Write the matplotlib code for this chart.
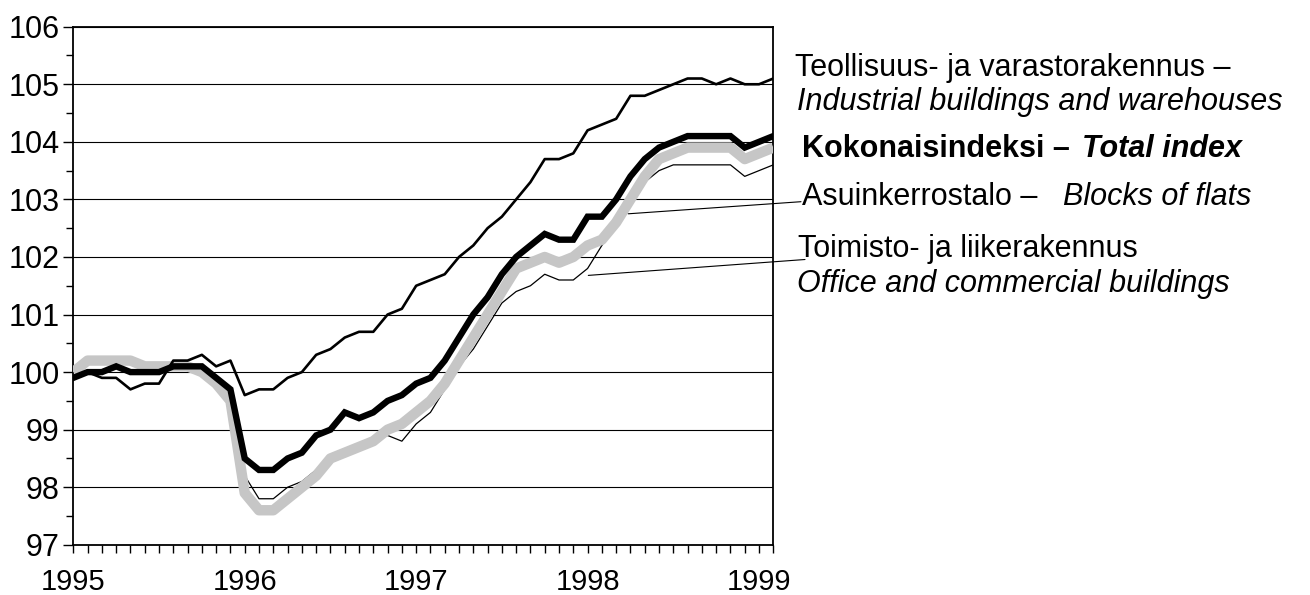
import matplotlib
matplotlib.use('Agg')
import matplotlib.pyplot as plt
from matplotlib import font_manager as fm
import numpy as np

# ---------------- data ----------------
months = list(range(50))  # Jan 1995 ... Feb 1999
year_tick_pos = [0, 12, 24, 36, 48]
year_labels = ['1995', '1996', '1997', '1998', '1999']
y_ticks = [97, 98, 99, 100, 101, 102, 103, 104, 105, 106]

teollisuus = [99.9, 100.0, 99.9, 99.9, 99.7, 99.8, 99.8, 100.2, 100.2, 100.3, 100.1, 100.2,
              99.6, 99.7, 99.7, 99.9, 100.0, 100.3, 100.4, 100.6, 100.7, 100.7, 101.0, 101.1,
              101.5, 101.6, 101.7, 102.0, 102.2, 102.5, 102.7, 103.0, 103.3, 103.7, 103.7, 103.8,
              104.2, 104.3, 104.4, 104.8, 104.8, 104.9, 105.0, 105.1, 105.1, 105.0, 105.1, 105.0,
              105.0, 105.1]

kokonais = [99.9, 100.0, 100.0, 100.1, 100.0, 100.0, 100.0, 100.1, 100.1, 100.1, 99.9, 99.7,
            98.5, 98.3, 98.3, 98.5, 98.6, 98.9, 99.0, 99.3, 99.2, 99.3, 99.5, 99.6,
            99.8, 99.9, 100.2, 100.6, 101.0, 101.3, 101.7, 102.0, 102.2, 102.4, 102.3, 102.3,
            102.7, 102.7, 103.0, 103.4, 103.7, 103.9, 104.0, 104.1, 104.1, 104.1, 104.1, 103.9,
            104.0, 104.1]

asuinkerrostalo = [100.0, 100.2, 100.2, 100.2, 100.2, 100.1, 100.1, 100.1, 100.1, 100.0, 99.8, 99.5,
                   97.9, 97.6, 97.6, 97.8, 98.0, 98.2, 98.5, 98.6, 98.7, 98.8, 99.0, 99.1,
                   99.3, 99.5, 99.8, 100.2, 100.6, 101.0, 101.4, 101.8, 101.9, 102.0, 101.9, 102.0,
                   102.2, 102.3, 102.6, 103.0, 103.4, 103.7, 103.8, 103.9, 103.9, 103.9, 103.9, 103.7,
                   103.8, 103.9]

toimisto = [100.0, 100.2, 100.2, 100.2, 100.2, 100.1, 100.1, 100.1, 100.1, 100.0, 99.8, 99.5,
            98.2, 97.8, 97.8, 98.0, 98.1, 98.3, 98.5, 98.6, 98.7, 98.8, 98.9, 98.8,
            99.1, 99.3, 99.7, 100.1, 100.4, 100.8, 101.2, 101.4, 101.5, 101.7, 101.6, 101.6,
            101.8, 102.2, 102.6, 103.0, 103.3, 103.5, 103.6, 103.6, 103.6, 103.6, 103.6, 103.4,
            103.5, 103.6]

# ---------------- fonts ----------------
names = {f.name for f in fm.fontManager.ttflist}
FONT = 'Liberation Sans Narrow' if 'Liberation Sans Narrow' in names else 'Liberation Sans'
plt.rcParams['font.family'] = [FONT, 'DejaVu Sans']
FS_TICK = 21
FS = 22

W, H = 1310, 595
fig = plt.figure(figsize=(W / 100, H / 100), dpi=100)
ax = fig.add_axes([73.3 / W, 1 - 544.8 / H, 700 / W, (544.8 - 26.7) / H])

# grid
for v in y_ticks:
    ax.axhline(v, color='black', lw=0.8, zorder=1)

ax.plot(months, toimisto, color='black', lw=0.9, zorder=2)
ax.plot(months, asuinkerrostalo, color='#c6c6c6', lw=7.5, solid_joinstyle='round',
        solid_capstyle='butt', zorder=3)
ax.plot(months, kokonais, color='black', lw=4.6, solid_joinstyle='miter', zorder=4)
ax.plot(months, teollisuus, color='black', lw=1.9, zorder=5)

ax.set_xlim(0, 49)
ax.set_ylim(97, 106)

ax.set_yticks(y_ticks)
ax.set_yticklabels([str(v) for v in y_ticks], fontsize=FS_TICK + 1)
ax.set_yticks(np.arange(97.5, 106, 1.0), minor=True)
ax.tick_params(axis='y', which='major', direction='out', length=7, width=1, pad=3)
ax.tick_params(axis='y', which='minor', direction='out', length=5, width=1)

ax.set_xticks(year_tick_pos)
ax.set_xticklabels(year_labels, fontsize=FS_TICK)
ax.set_xticks(months, minor=True)
ax.tick_params(axis='x', which='both', direction='out', length=5.5, width=1, pad=11)

for s in ax.spines.values():
    s.set_linewidth(1.3)

# ---------------- labels ----------------
def ft(px, base, s, **kw):
    return fig.text(px / W, 1 - base / H, s, fontsize=FS, va='baseline', ha='left', **kw)

ft(795, 76, 'Teollisuus- ja varastorakennus –')
ft(797, 110, 'Industrial buildings and warehouses', style='italic')
t_kok = ft(802, 157, 'Kokonaisindeksi –', weight='bold')
t_asu = ft(802, 205, 'Asuinkerrostalo –')
ft(798, 257, 'Toimisto- ja liikerakennus')
ft(797, 292, 'Office and commercial buildings', style='italic')

fig.canvas.draw()
renderer = fig.canvas.get_renderer()
x_end_kok = t_kok.get_window_extent(renderer).x1
x_end_asu = t_asu.get_window_extent(renderer).x1
ft(max(1072, x_end_kok + 12), 157, 'Total index', weight='bold', style='italic')
ft(max(1063, x_end_asu + 22), 205, 'Blocks of flats', style='italic')

# leader lines
ax.annotate('', xy=(38.85, 102.75), xycoords='data',
            xytext=(801 / W, 1 - 201.7 / H), textcoords='figure fraction',
            arrowprops=dict(arrowstyle='-', lw=0.8, color='black', shrinkA=0, shrinkB=0),
            zorder=6)
ax.annotate('', xy=(36.05, 101.68), xycoords='data',
            xytext=(805 / W, 1 - 259.5 / H), textcoords='figure fraction',
            arrowprops=dict(arrowstyle='-', lw=0.8, color='black', shrinkA=0, shrinkB=0),
            zorder=6)

fig.savefig('out.png', dpi=100)
